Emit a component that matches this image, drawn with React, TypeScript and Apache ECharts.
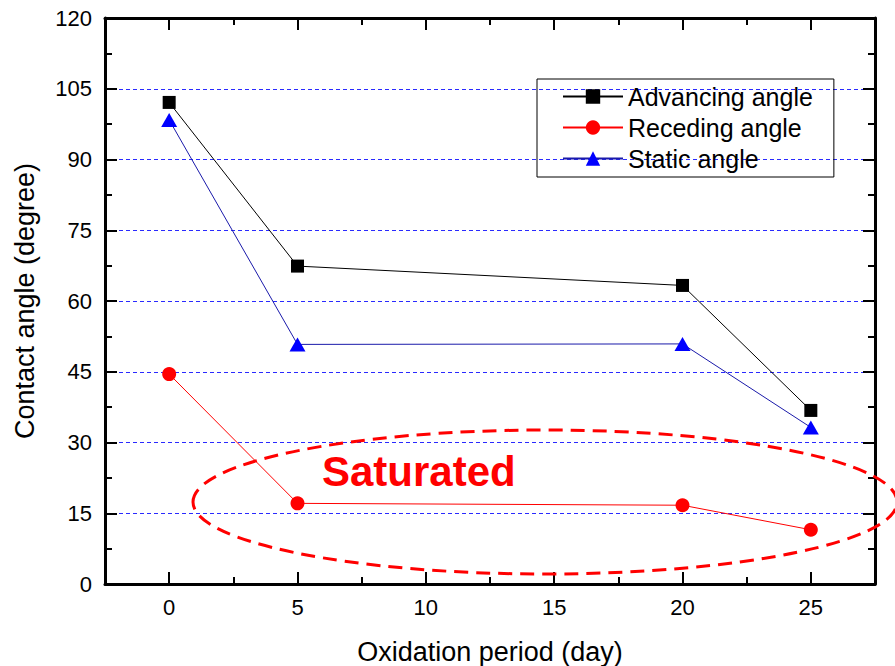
import React, { useEffect, useRef } from "react";
import * as echarts from "echarts";

const days = [0, 5, 20, 25];
const advancing = [102.1, 67.4, 63.3, 36.8];
const receding = [44.5, 17.1, 16.7, 11.5];
const staticAngle = [98.4, 50.8, 50.9, 33.2];
const xMajor = [0, 5, 10, 15, 20, 25];
const xMinor = [-2.5, 2.5, 7.5, 12.5, 17.5, 22.5, 27.5];
const seriesNames = ["Advancing angle", "Receding angle", "Static angle"];
const annotation = "Saturated";
const xTitle = "Oxidation period (day)";
const yTitle = "Contact angle (degree)";

const FONT = "Arial, 'Liberation Sans', sans-serif";

export default function App() {
  const ref = useRef<HTMLDivElement>(null);
  useEffect(() => {
    if (!ref.current) return;
    const chart = echarts.init(ref.current, undefined, { renderer: "svg" });
    const toPts = (vals: number[]) => days.map((d, i) => [d, vals[i]]);
    const gridRect = { left: 105, right: 20, top: 18, bottom: 82, outerBoundsMode: "none", containLabel: false };
    const axisLine = () => ({ show: true, onZero: false, lineStyle: { color: "#000", width: 3 } });
    const tick = (len: number, extra: any = {}) => ({
      show: true,
      inside: true,
      length: len,
      lineStyle: { color: "#000", width: 2 },
      ...extra,
    });
    const baseX = { type: "value", min: -2.5, max: 27.5, splitLine: { show: false } };
    const baseY = { type: "value", min: 0, max: 120, interval: 15 };
    chart.setOption({
      animation: false,
      backgroundColor: "#fff",
      grid: [{ ...gridRect }, { ...gridRect }],
      xAxis: [
        {
          ...baseX,
          gridIndex: 0,
          position: "bottom",
          axisLine: axisLine(),
          axisTick: tick(12, { customValues: xMajor }),
          axisLabel: { customValues: xMajor, fontSize: 22, color: "#000", margin: 12, fontFamily: FONT },
          name: xTitle,
          nameLocation: "middle",
          nameGap: 54,
          nameTextStyle: { fontSize: 27, color: "#000", fontFamily: FONT },
        },
        {
          ...baseX,
          gridIndex: 0,
          position: "top",
          axisLine: axisLine(),
          axisTick: tick(12, { customValues: xMajor }),
          axisLabel: { show: false },
        },
        {
          ...baseX,
          gridIndex: 1,
          position: "bottom",
          axisLine: { show: false, onZero: false },
          axisTick: tick(7, { customValues: xMinor }),
          axisLabel: { show: false },
        },
        {
          ...baseX,
          gridIndex: 1,
          position: "top",
          axisLine: { show: false, onZero: false },
          axisTick: tick(7, { customValues: xMinor }),
          axisLabel: { show: false },
        },
      ],
      yAxis: [
        {
          ...baseY,
          gridIndex: 0,
          position: "left",
          axisLine: axisLine(),
          axisTick: tick(12),
          minorTick: { show: true, splitNumber: 2, length: 7, lineStyle: { color: "#000", width: 2 } },
          axisLabel: { fontSize: 22, color: "#000", margin: 13, fontFamily: FONT },
          splitLine: { show: true, lineStyle: { color: "#2a2aff", width: 1, type: [4, 3] } },
          name: yTitle,
          nameLocation: "middle",
          nameGap: 67,
          nameTextStyle: { fontSize: 27, color: "#000", fontFamily: FONT },
        },
        {
          ...baseY,
          gridIndex: 0,
          position: "right",
          axisLine: axisLine(),
          axisTick: tick(12),
          minorTick: { show: true, splitNumber: 2, length: 7, lineStyle: { color: "#000", width: 2 } },
          axisLabel: { show: false },
          splitLine: { show: false },
        },
        {
          ...baseY,
          gridIndex: 1,
          axisLine: { show: false, onZero: false },
          axisTick: { show: false },
          axisLabel: { show: false },
          splitLine: { show: false },
        },
      ],
      legend: {
        orient: "vertical",
        left: 537,
        top: 79,
        data: seriesNames,
        borderColor: "#000",
        borderWidth: 1,
        borderRadius: 0,
        padding: [5, 21, 6, 25],
        itemGap: 6,
        itemWidth: 60,
        itemHeight: 18,
        textStyle: { fontSize: 25, lineHeight: 25, color: "#000", fontFamily: FONT },
      },
      series: [
        {
          name: seriesNames[0],
          type: "line",
          xAxisIndex: 0,
          yAxisIndex: 0,
          data: toPts(advancing),
          symbol: "rect",
          symbolSize: 13,
          itemStyle: { color: "#000" },
          lineStyle: { color: "#000", width: 1 },
        },
        {
          name: seriesNames[1],
          type: "line",
          xAxisIndex: 0,
          yAxisIndex: 0,
          data: toPts(receding),
          symbol: "circle",
          symbolSize: 14,
          itemStyle: { color: "#ff0000" },
          lineStyle: { color: "#ff0000", width: 1 },
        },
        {
          name: seriesNames[2],
          type: "line",
          xAxisIndex: 0,
          yAxisIndex: 0,
          data: toPts(staticAngle),
          symbol: "triangle",
          symbolSize: [16, 14],
          itemStyle: { color: "#0000ff" },
          lineStyle: { color: "#1a1aaa", width: 1 },
        },
      ],
      graphic: [
        {
          type: "ellipse",
          shape: { cx: 545, cy: 502, rx: 352, ry: 72 },
          style: { fill: "none", stroke: "#ff0000", lineWidth: 3, lineDash: [14, 8] },
          z: 100,
        },
        {
          type: "text",
          x: 322,
          y: 471,
          style: {
            text: annotation,
            fill: "#ff0000",
            font: `bold 42px ${FONT}`,
            textVerticalAlign: "middle",
          },
          z: 100,
        },
      ],
    });
    return () => chart.dispose();
  }, []);
  return (
    <div
      ref={ref}
      style={{ position: "fixed", left: 0, top: 0, width: 895, height: 666, background: "#fff" }}
    />
  );
}
